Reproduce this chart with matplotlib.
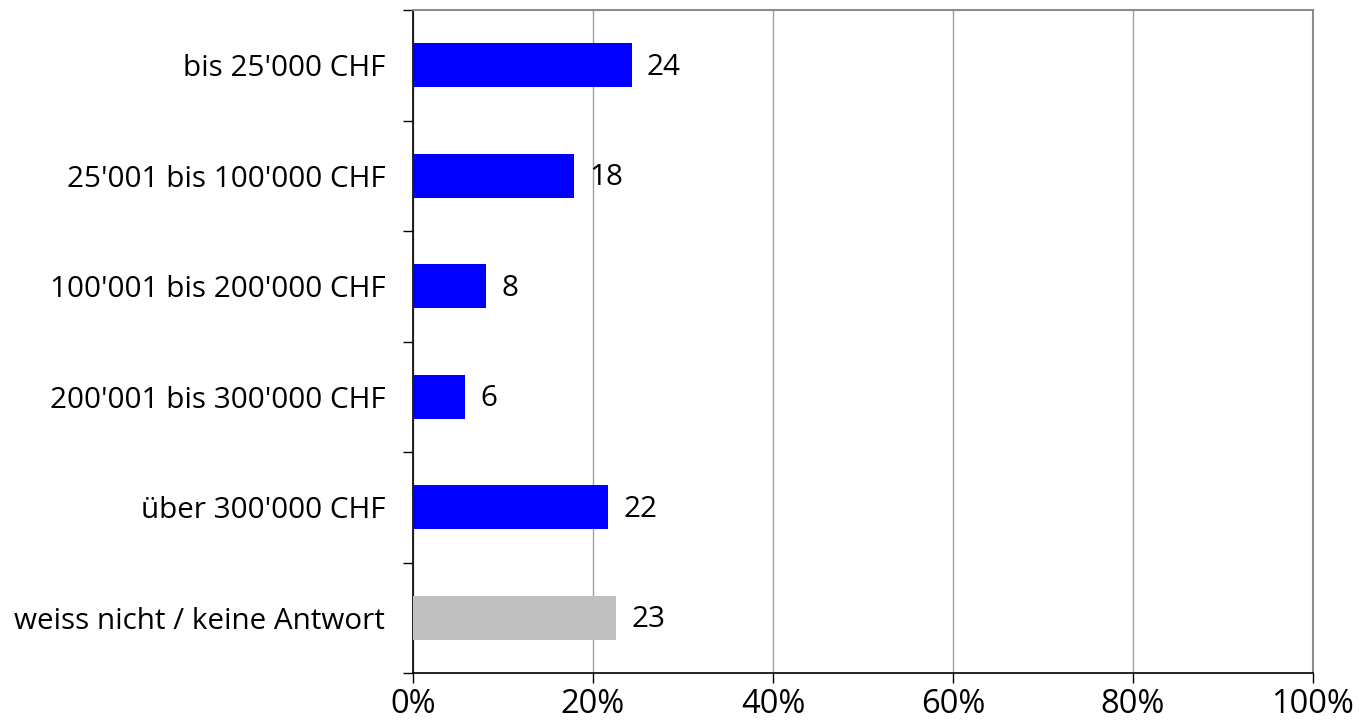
import matplotlib
matplotlib.use("Agg")
import matplotlib.pyplot as plt
import numpy as np

categories = ["bis 25'000 CHF", "25'001 bis 100'000 CHF", "100'001 bis 200'000 CHF",
              "200'001 bis 300'000 CHF", "über 300'000 CHF", "weiss nicht / keine Antwort"]
values = [24.3, 17.9, 8.1, 5.8, 21.7, 22.6]
labels = ["24", "18", "8", "6", "22", "23"]
colors = ["#0000FF"] * 5 + ["#C0C0C0"]
xticks = [0, 20, 40, 60, 80, 100]
xticklabels = ["0%", "20%", "40%", "60%", "80%", "100%"]

plt.rcParams['font.family'] = ['Open Sans', 'DejaVu Sans']
fs = 21.3
fs_x = 23.5

fig = plt.figure(figsize=(13.59, 7.27), dpi=100)
ax = fig.add_axes([413/1359, 1 - 673/727, 900/1359, 663/727])

y = np.arange(len(categories))
ax.barh(y, values, height=0.4, color=colors, zorder=3)
for yi, v, lab in zip(y, values, labels):
    ax.text(v + 1.7, yi + 0.02, lab, va='center', ha='left', fontsize=fs, color='black')

ax.set_xlim(0, 100)
ax.set_ylim(len(categories) - 0.5, -0.5)
ax.set_xticks(xticks)
ax.set_xticklabels(xticklabels, fontsize=fs_x)
ax.set_yticks(y)
ax.set_yticklabels(categories, fontsize=fs)
ax.tick_params(axis='y', length=0, pad=20)
ax.set_yticks(np.arange(-0.5, len(categories)), minor=True)
ax.tick_params(axis='y', which='minor', length=7, width=1, color='black', direction='out')
ax.tick_params(axis='x', length=7, width=1, color='black', direction='out', pad=4)
ax.xaxis.grid(True, color='#A0A0A0', linewidth=1, zorder=0)
ax.set_axisbelow(True)
for s in ['top', 'right']:
    ax.spines[s].set_color('#8C8C8C')
    ax.spines[s].set_linewidth(1.5)
for s in ['left', 'bottom']:
    ax.spines[s].set_color('black')
    ax.spines[s].set_linewidth(1.2)

fig.savefig("out.png", dpi=100)
